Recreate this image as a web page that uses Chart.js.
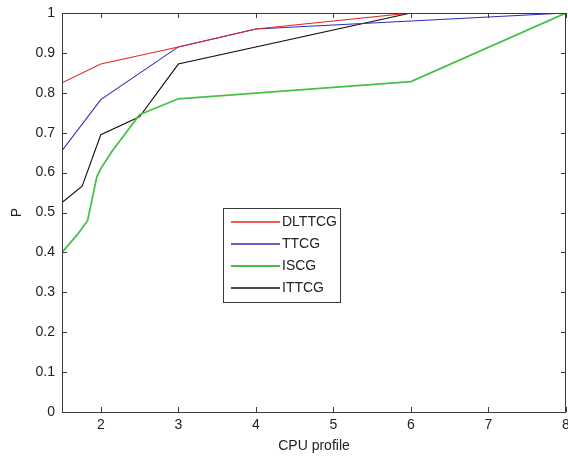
<!DOCTYPE html>
<html>
<head>
<meta charset="utf-8">
<script src="https://cdn.jsdelivr.net/npm/chart.js@4"></script>
<style>
  html, body { margin: 0; padding: 0; background: #fff; }
  #wrap { width: 568px; height: 458px; }
</style>
</head>
<body>
<div id="wrap"><canvas id="cpuChart"></canvas></div>
<script>
// values
const xTicks = [2, 3, 4, 5, 6, 7, 8];
const yTicks = [0, 0.1, 0.2, 0.3, 0.4, 0.5, 0.6, 0.7, 0.8, 0.9, 1];

const dlttcgX = [1.5, 2, 3, 4, 6, 8];
const dlttcgY = [0.825, 0.872, 0.915, 0.96, 1.0, 1.0];

const ttcgX = [1.5, 2, 3, 4, 5, 6, 7, 8];
const ttcgY = [0.655, 0.783, 0.915, 0.96, 0.97, 0.98, 0.99, 1.0];

const iscgX = [1.5, 1.7, 1.83, 1.95, 2, 2.15, 2.5, 3, 6, 8];
const iscgY = [0.40, 0.445, 0.48, 0.59, 0.61, 0.655, 0.745, 0.785, 0.828, 1.0];

const ittcgX = [1.5, 1.76, 2, 2.5, 3, 6, 8];
const ittcgY = [0.525, 0.566, 0.695, 0.74, 0.872, 1.0, 1.0];

const FONT = "'Liberation Sans', Arial, sans-serif";
const AXIS = "#3a3a3a";

function toPoints(xs, ys) {
    return xs.map((x, i) => ({ x: x, y: ys[i] }));
}

function series(label, xs, ys, color, width) {
    return {
        label: label,
        data: toPoints(xs, ys),
        borderColor: color,
        backgroundColor: color,
        borderWidth: width,
        pointRadius: 0,
        tension: 0,
        fill: false
    };
}

// box round the plot with small ticks pointing inward, matlab style
const boxPlugin = {
    id: "box",
    afterDraw(chart) {
        const { ctx, chartArea: a, scales: { x, y } } = chart;
        const len = 5;
        ctx.save();
        ctx.strokeStyle = AXIS;
        ctx.lineWidth = 1;
        ctx.strokeRect(a.left + 0.5, a.top + 0.5, a.right - a.left - 1, a.bottom - a.top);
        ctx.beginPath();
        xTicks.forEach(v => {
            const px = Math.round(x.getPixelForValue(v)) + 0.5;
            ctx.moveTo(px, a.bottom); ctx.lineTo(px, a.bottom - len);
            ctx.moveTo(px, a.top); ctx.lineTo(px, a.top + len);
        });
        yTicks.forEach(v => {
            const py = Math.round(y.getPixelForValue(v)) + 0.5;
            ctx.moveTo(a.left, py); ctx.lineTo(a.left + len, py);
            ctx.moveTo(a.right, py); ctx.lineTo(a.right - len, py);
        });
        ctx.stroke();

        // legend box inside the plot
        const lx = 223, ly = 208, lw = 117, lh = 94;
        ctx.fillStyle = "#fff";
        ctx.fillRect(lx, ly, lw, lh);
        ctx.strokeRect(lx + 0.5, ly + 0.5, lw, lh);
        ctx.font = "14px " + FONT;
        ctx.textBaseline = "middle";
        chart.data.datasets.forEach((ds, i) => {
            const ry = ly + 14 + i * 22;
            ctx.strokeStyle = ds.borderColor;
            ctx.lineWidth = ds.borderWidth > 1.5 ? 2 : 1.6;
            ctx.beginPath();
            ctx.moveTo(lx + 8, ry);
            ctx.lineTo(lx + 57, ry);
            ctx.stroke();
            ctx.fillStyle = "#222";
            ctx.fillText(ds.label, lx + 59, ry + 0.5);
        });
        ctx.restore();
    }
};

const ctx = document.getElementById("cpuChart").getContext("2d");

new Chart(ctx, {
    type: "line",
    data: {
        datasets: [
            series("DLTTCG", dlttcgX, dlttcgY, "#e02828", 1.1),
            series("TTCG", ttcgX, ttcgY, "#2e2eb8", 1.1),
            series("ISCG", iscgX, iscgY, "#48c048", 1.8),
            series("ITTCG", ittcgX, ittcgY, "#111111", 1.1)
        ]
    },
    options: {
        responsive: true,
        maintainAspectRatio: false,
        animation: false,
        layout: { padding: { top: 13, right: 2, left: 0, bottom: 0 } },
        plugins: {
            legend: { display: false },
            tooltip: { enabled: false }
        },
        scales: {
            x: {
                type: "linear",
                min: 1.5,
                max: 8,
                afterBuildTicks: s => { s.ticks = xTicks.map(v => ({ value: v })); },
                afterFit: s => { s.height = 46; s.paddingLeft = 0; s.paddingRight = 0; },
                grid: { display: false, drawTicks: false },
                border: { display: false },
                ticks: {
                    padding: 5,
                    color: "#222",
                    font: { family: FONT, size: 14 },
                    callback: v => String(v)
                },
                title: {
                    display: true,
                    text: "CPU profile",
                    color: "#222",
                    font: { family: FONT, size: 14 },
                    padding: { top: 0, bottom: 3 }
                }
            },
            y: {
                min: 0,
                max: 1,
                afterBuildTicks: s => { s.ticks = yTicks.map(v => ({ value: v })); },
                afterFit: s => { s.width = 62; s.paddingTop = 0; s.paddingBottom = 0; },
                grid: { display: false, drawTicks: false },
                border: { display: false },
                ticks: {
                    padding: 7,
                    color: "#222",
                    font: { family: FONT, size: 14 },
                    callback: v => String(+v.toFixed(1))
                },
                title: {
                    display: true,
                    text: "P",
                    color: "#222",
                    font: { family: FONT, size: 14 },
                    padding: { top: 9, bottom: 0 }
                }
            }
        }
    },
    plugins: [boxPlugin]
});
</script>
</body>
</html>
